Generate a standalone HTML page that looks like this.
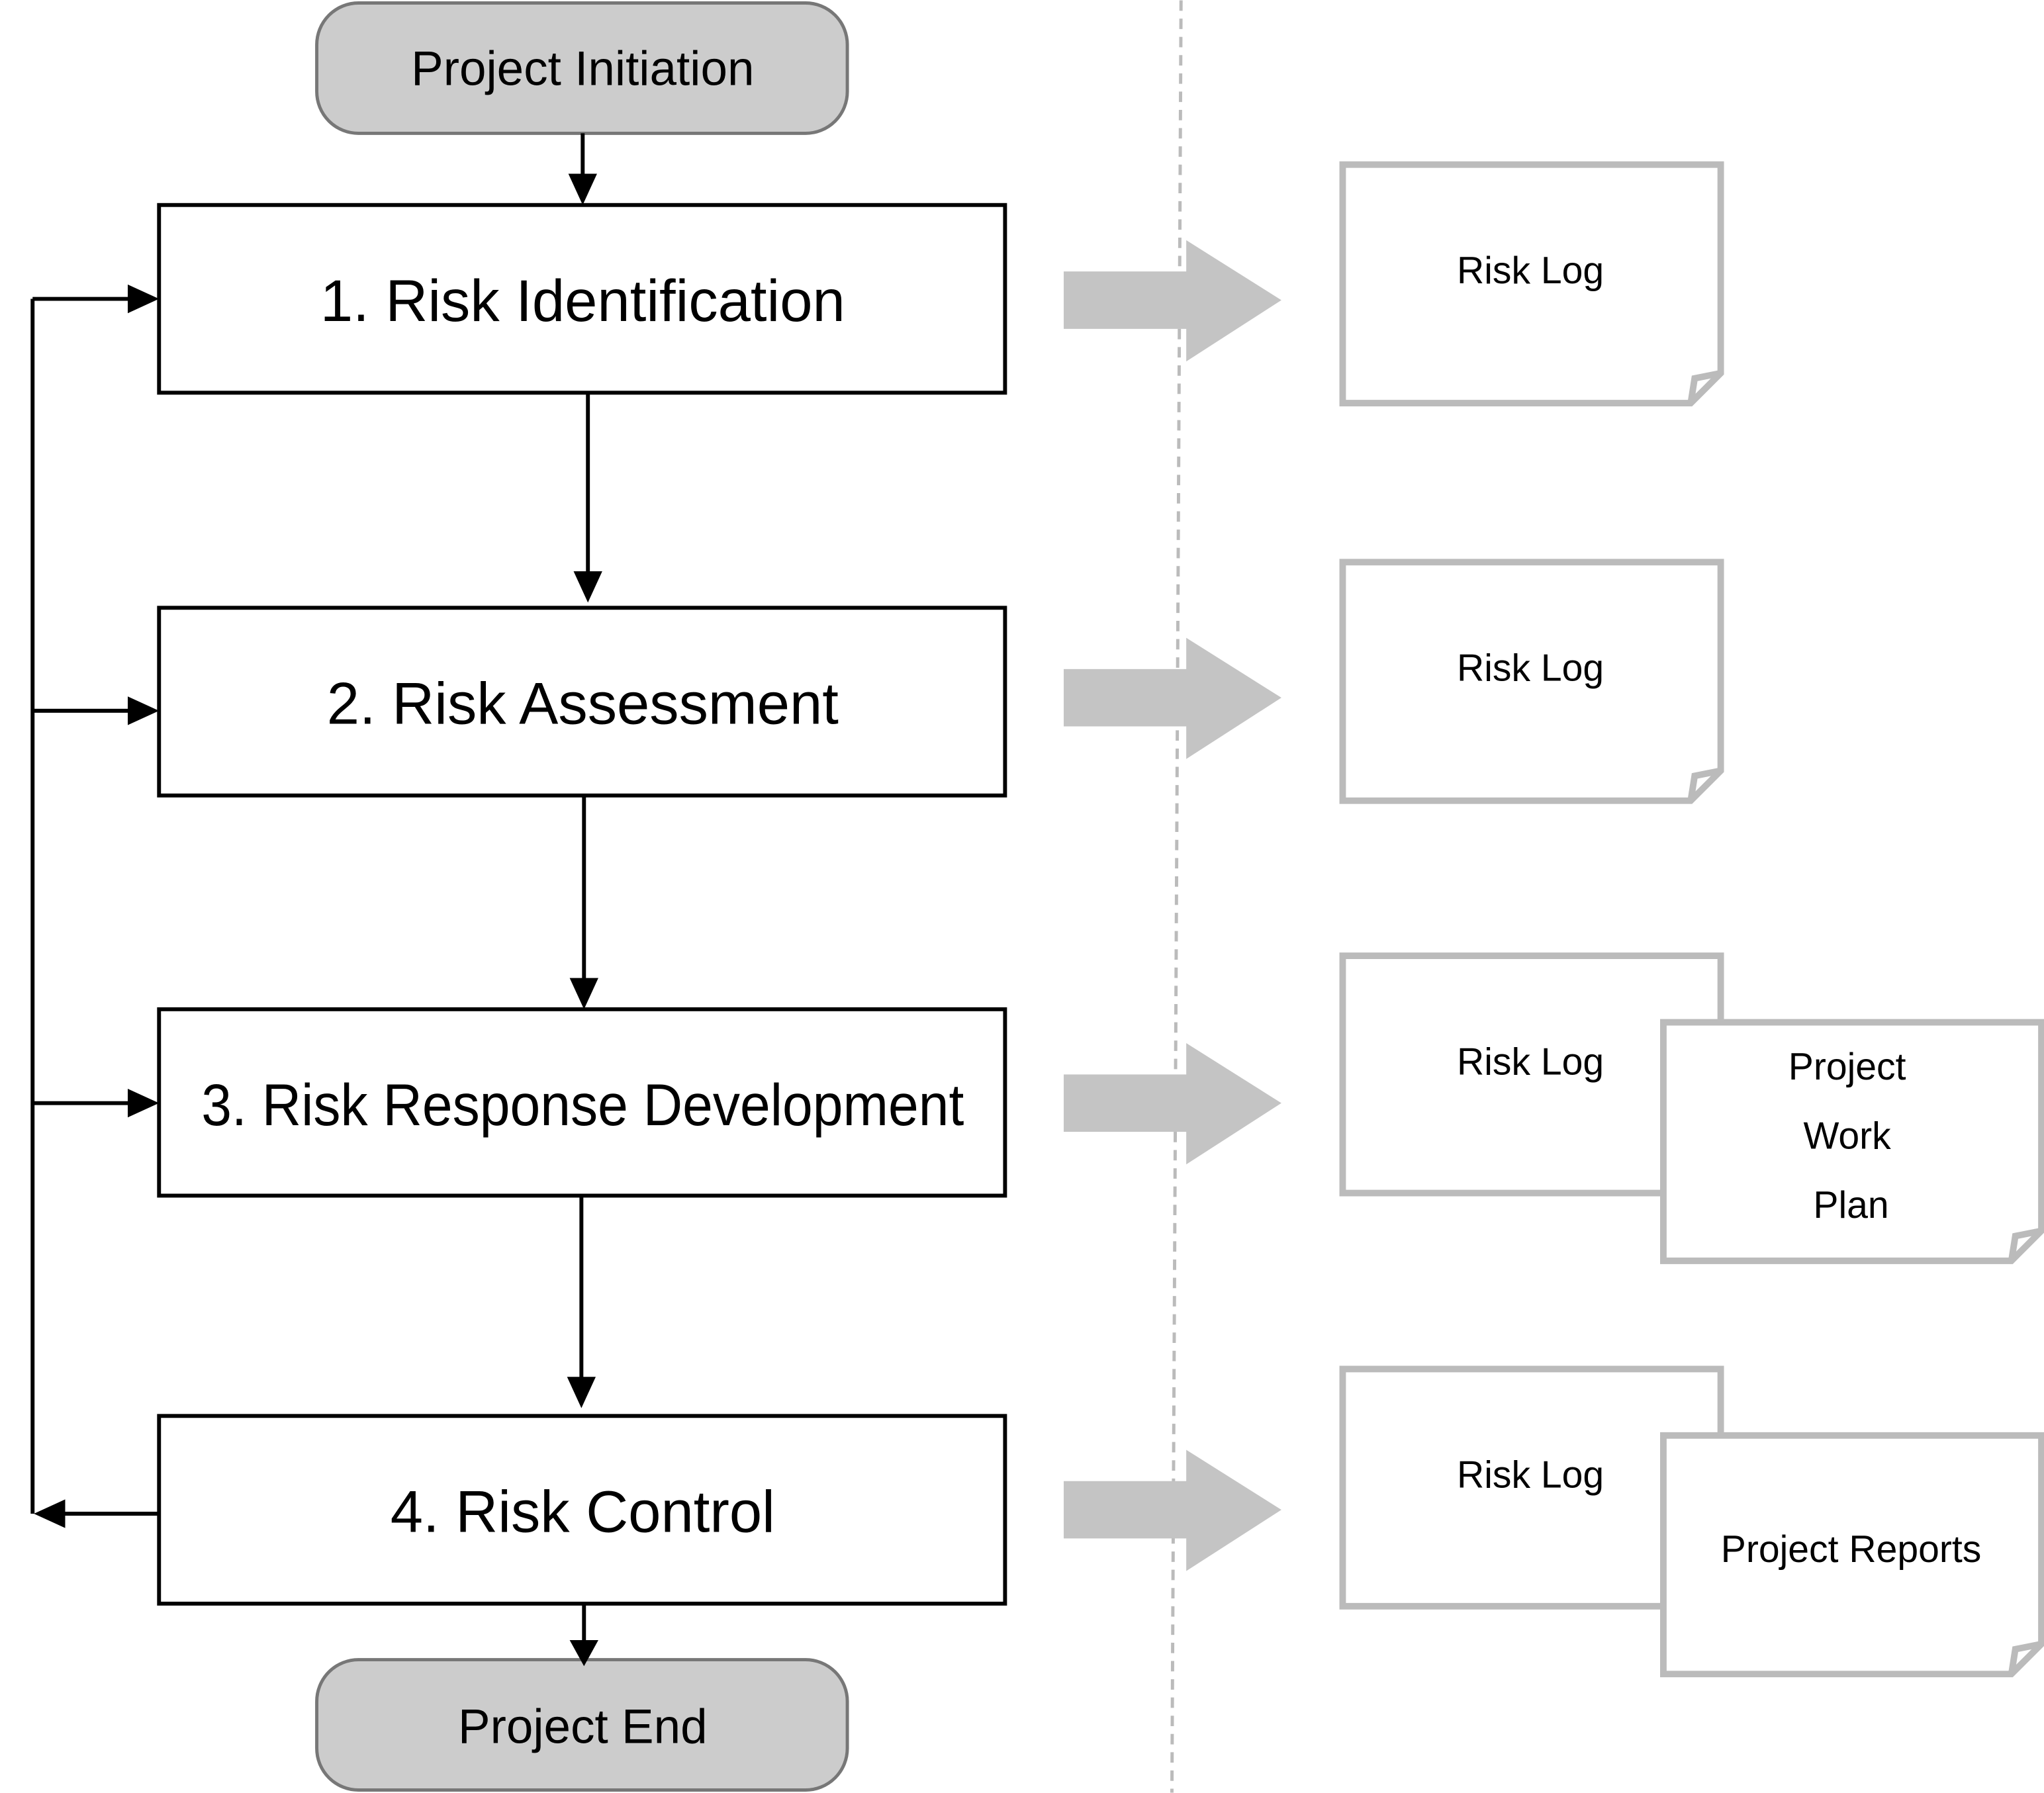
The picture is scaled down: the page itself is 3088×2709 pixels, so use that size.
<!DOCTYPE html>
<html><head><meta charset="utf-8"><style>html,body{margin:0;padding:0;background:#fff}svg{display:block}</style></head>
<body>
<svg width="3088" height="2709" viewBox="0 0 1568 1375" xmlns="http://www.w3.org/2000/svg" font-family="'Liberation Sans', sans-serif">
<rect width="1568" height="1375" fill="#fff"/>
<line x1="906" y1="0" x2="899" y2="1375" stroke="#bbb" stroke-width="2.5" stroke-dasharray="8,6"/>
<g stroke="#777" stroke-width="2.5" fill="#cccccc">
<rect x="243" y="2" width="407" height="100" rx="32"/>
<rect x="243" y="1273" width="407" height="100" rx="32"/>
</g>
<g font-size="37" text-anchor="middle" fill="#000">
<text x="447" y="65">Project Initiation</text>
<text x="447" y="1337">Project End</text>
</g>
<g stroke="#000" stroke-width="3" fill="#fff">
<rect x="122" y="157" width="649" height="144"/>
<rect x="122" y="466" width="649" height="144"/>
<rect x="122" y="774" width="649" height="143"/>
<rect x="122" y="1086" width="649" height="144"/>
</g>
<g font-size="45" text-anchor="middle" fill="#000">
<text x="447" y="246">1. Risk Identification</text>
<text x="447" y="555">2. Risk Assessment</text>
<text x="447" y="863" textLength="585" lengthAdjust="spacingAndGlyphs">3. Risk Response Development</text>
<text x="447" y="1175">4. Risk Control</text>
</g>
<g stroke="#000" stroke-width="3" fill="none">
<line x1="447" y1="102" x2="447" y2="135"/>
<line x1="451" y1="301" x2="451" y2="440"/>
<line x1="448" y1="610" x2="448" y2="752"/>
<line x1="446" y1="917" x2="446" y2="1058"/>
<line x1="448" y1="1230" x2="448" y2="1262"/>
<line x1="25" y1="229" x2="25" y2="1161"/>
<line x1="122" y1="1161" x2="48" y2="1161"/>
<line x1="25" y1="229" x2="100" y2="229"/>
<line x1="25" y1="545" x2="100" y2="545"/>
<line x1="25" y1="846" x2="100" y2="846"/>
</g>
<g fill="#000">
<path d="M436,133 L458,133 L447,157 Z"/>
<path d="M440,438 L462,438 L451,462 Z"/>
<path d="M437,750 L459,750 L448,774 Z"/>
<path d="M435,1056 L457,1056 L446,1080 Z"/>
<path d="M437,1258 L459,1258 L448,1278 Z"/>
<path d="M98,218 L98,240 L122,229 Z"/>
<path d="M98,534 L98,556 L122,545 Z"/>
<path d="M98,835 L98,857 L122,846 Z"/>
<path d="M50,1150 L50,1172 L26,1161 Z"/>
</g>
<g fill="#c4c4c4">
<path d="M816,208 H910 V184 L983,230 L910,277 V252 H816 Z"/>
<path d="M816,513 H910 V489 L983,535 L910,582 V557 H816 Z"/>
<path d="M816,824 H910 V800 L983,846 L910,893 V868 H816 Z"/>
<path d="M816,1136 H910 V1112 L983,1158 L910,1205 V1180 H816 Z"/>
</g>
<g stroke="#bbb" stroke-width="5" fill="#fff">
<path d="M1030,126 H1320 V286 L1297,309 H1030 Z"/>
<path d="M1297,309 L1300,290 L1320,286" fill="none"/>
<path d="M1030,431 H1320 V591 L1297,614 H1030 Z"/>
<path d="M1297,614 L1300,595 L1320,591" fill="none"/>
<path d="M1030,733 H1320 V915 H1030 Z"/>
<path d="M1276,784 H1566 V944 L1543,967 H1276 Z"/>
<path d="M1543,967 L1546,948 L1566,944" fill="none"/>
<path d="M1030,1050 H1320 V1232 H1030 Z"/>
<path d="M1276,1101 H1566 V1261 L1543,1284 H1276 Z"/>
<path d="M1543,1284 L1546,1265 L1566,1261" fill="none"/>
</g>
<g font-size="29" text-anchor="middle" fill="#000">
<text x="1174" y="217">Risk Log</text>
<text x="1174" y="522">Risk Log</text>
<text x="1174" y="824">Risk Log</text>
<text x="1174" y="1141">Risk Log</text>
<text x="1417" y="828">Project</text>
<text x="1417" y="881">Work</text>
<text x="1420" y="934">Plan</text>
<text x="1420" y="1198">Project Reports</text>
</g>
</svg>
</body></html>
